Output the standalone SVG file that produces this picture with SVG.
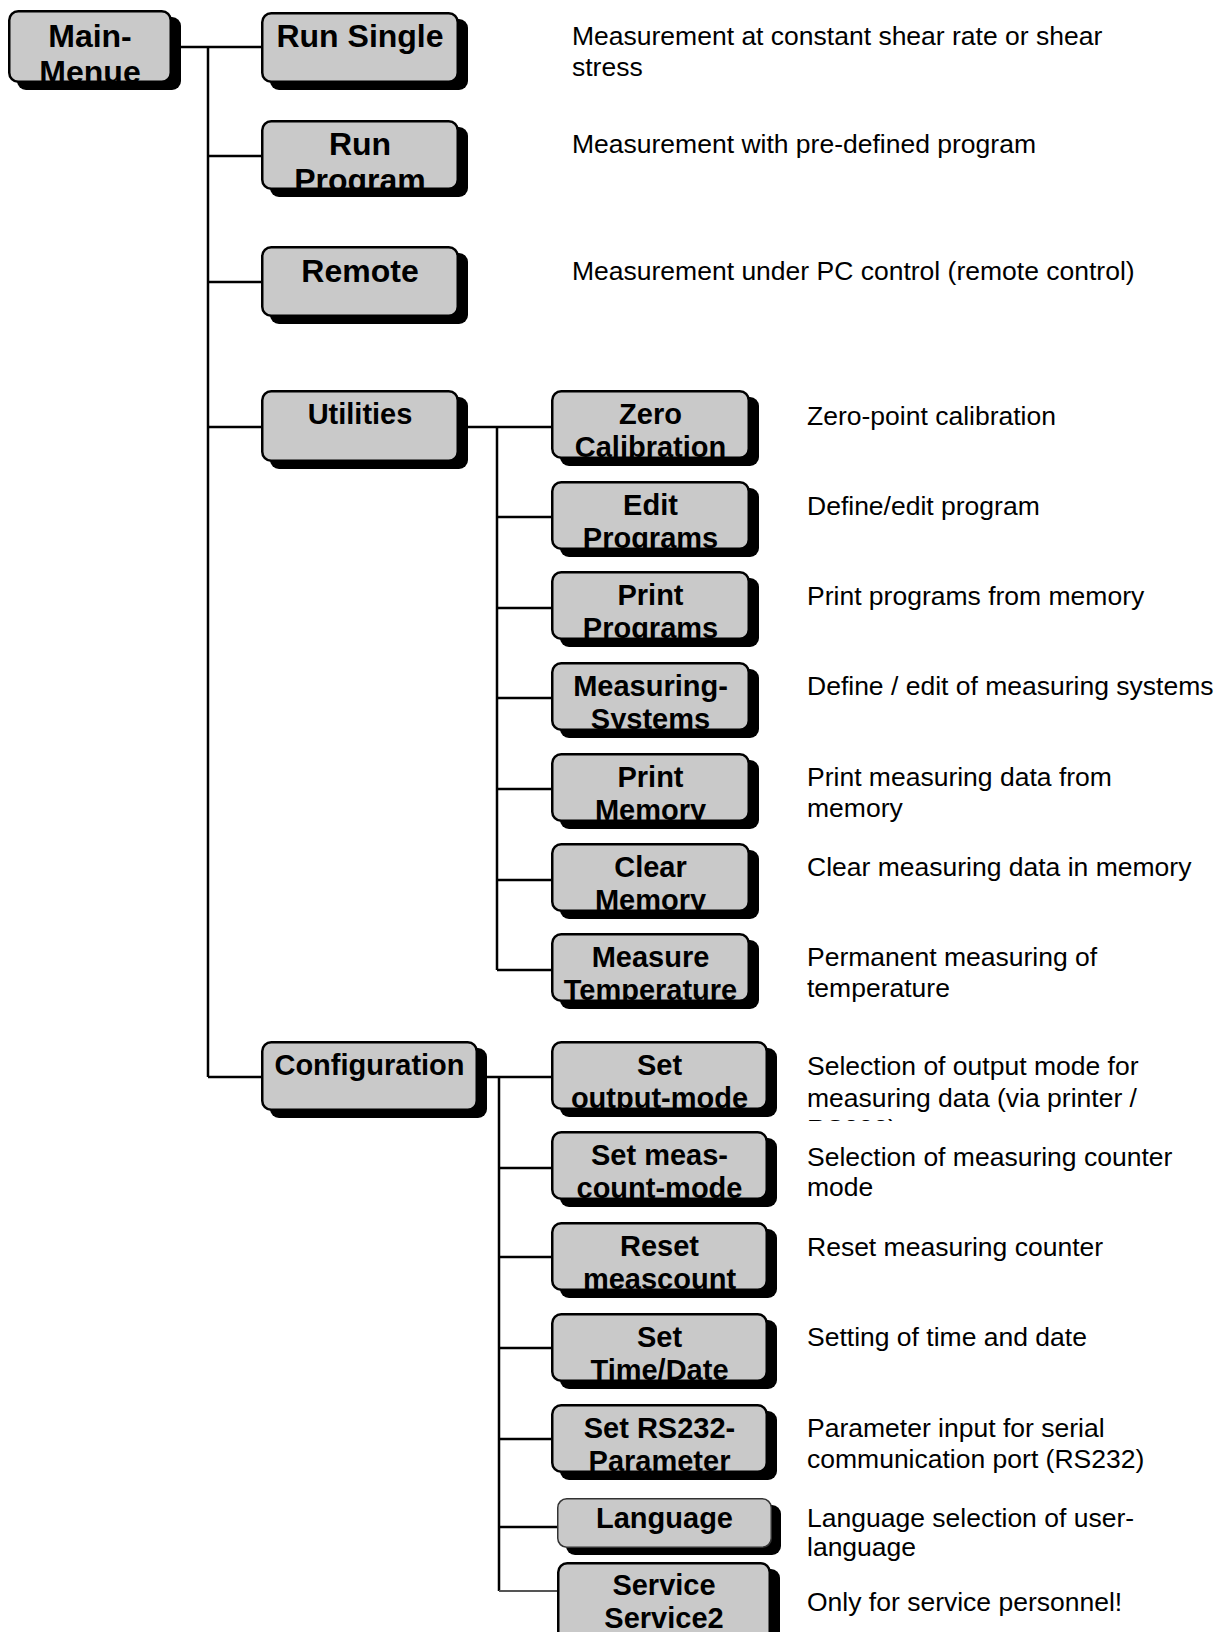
<svg xmlns="http://www.w3.org/2000/svg" width="1222" height="1632" viewBox="0 0 1222 1632">
<style>
.sh{fill:#000}
.bx{fill:#c9c9c9;stroke:#000;stroke-width:2.5}
.bxt{fill:#c9c9c9;stroke:#333;stroke-width:1.5}
.lb{font-family:"Liberation Sans",Arial,sans-serif;font-weight:bold;font-size:29px;text-anchor:middle;fill:#000}
.lg{font-size:32px}
.ds{font-family:"Liberation Sans",Arial,sans-serif;font-size:26.5px;fill:#000}
.cn{stroke:#000;stroke-width:2.5;fill:none}
.cnt{stroke:#555;stroke-width:1.8;fill:none}
</style>
<defs>
<clipPath id="clipDesc"><rect x="780" y="1040" width="420" height="81"/></clipPath>
</defs>
<rect width="1222" height="1632" fill="#fff"/>

<g id="connectors">
<path class="cn" d="M172 47H261M208 47V1077M208 156H261M208 282H261M208 427H261M208 1077H261"/>
<path class="cn" d="M458 427H551M497 427V970M497 517H551M497 608H551M497 698H551M497 789H551M497 880H551M497 970H551"/>
<path class="cn" d="M478 1077H551M499 1077V1591M499 1168H551M499 1257H551M499 1348H551M499 1439H551M499 1527H557"/>
<path class="cnt" d="M499 1591H557"/>
</g>

<g id="main-menue">
<rect class="sh" x="17" y="17" width="164" height="73" rx="9"/>
<svg x="8" y="10" width="164" height="73"><rect class="bx" x="1.25" y="1.25" width="161.5" height="70.5" rx="9"/>
<text class="lb lg" x="82" y="37">Main-</text><text class="lb lg" x="82" y="73">Menue</text></svg>
</g>

<g id="run-single">
<rect class="sh" x="270" y="19" width="198" height="71" rx="9"/>
<svg x="261" y="12" width="198" height="71"><rect class="bx" x="1.25" y="1.25" width="195.5" height="68.5" rx="9"/>
<text class="lb lg" x="99" y="35">Run Single</text></svg>
</g>

<g id="run-program">
<rect class="sh" x="270" y="127" width="198" height="70" rx="9"/>
<svg x="261" y="120" width="198" height="70"><rect class="bx" x="1.25" y="1.25" width="195.5" height="67.5" rx="9"/>
<text class="lb lg" x="99" y="35">Run</text><text class="lb lg" x="99" y="71">Program</text></svg>
</g>

<g id="remote">
<rect class="sh" x="270" y="253" width="198" height="71" rx="9"/>
<svg x="261" y="246" width="198" height="71"><rect class="bx" x="1.25" y="1.25" width="195.5" height="68.5" rx="9"/>
<text class="lb lg" x="99" y="36">Remote</text></svg>
</g>

<g id="utilities">
<rect class="sh" x="270" y="397" width="198" height="72" rx="9"/>
<svg x="261" y="390" width="198" height="72"><rect class="bx" x="1.25" y="1.25" width="195.5" height="69.5" rx="9"/>
<text class="lb" x="99" y="34">Utilities</text></svg>
</g>

<g id="configuration">
<rect class="sh" x="270" y="1048" width="217" height="70" rx="9"/>
<svg x="261" y="1041" width="217" height="70"><rect class="bx" x="1.25" y="1.25" width="214.5" height="67.5" rx="9"/>
<text class="lb" x="108.5" y="34">Configuration</text></svg>
</g>

<g id="zero-calibration">
<rect class="sh" x="560" y="397" width="199" height="69" rx="9"/>
<svg x="551" y="390" width="199" height="69"><rect class="bx" x="1.25" y="1.25" width="196.5" height="66.5" rx="9"/>
<text class="lb" x="99.5" y="34">Zero</text><text class="lb" x="99.5" y="67">Calibration</text></svg>
</g>

<g id="edit-programs">
<rect class="sh" x="560" y="488" width="199" height="69" rx="9"/>
<svg x="551" y="481" width="199" height="69"><rect class="bx" x="1.25" y="1.25" width="196.5" height="66.5" rx="9"/>
<text class="lb" x="99.5" y="34">Edit</text><text class="lb" x="99.5" y="67">Programs</text></svg>
</g>

<g id="print-programs">
<rect class="sh" x="560" y="578" width="199" height="69" rx="9"/>
<svg x="551" y="571" width="199" height="69"><rect class="bx" x="1.25" y="1.25" width="196.5" height="66.5" rx="9"/>
<text class="lb" x="99.5" y="34">Print</text><text class="lb" x="99.5" y="67">Programs</text></svg>
</g>

<g id="measuring-systems">
<rect class="sh" x="560" y="669" width="199" height="69" rx="9"/>
<svg x="551" y="662" width="199" height="69"><rect class="bx" x="1.25" y="1.25" width="196.5" height="66.5" rx="9"/>
<text class="lb" x="99.5" y="34">Measuring-</text><text class="lb" x="99.5" y="67">Systems</text></svg>
</g>

<g id="print-memory">
<rect class="sh" x="560" y="760" width="199" height="69" rx="9"/>
<svg x="551" y="753" width="199" height="69"><rect class="bx" x="1.25" y="1.25" width="196.5" height="66.5" rx="9"/>
<text class="lb" x="99.5" y="34">Print</text><text class="lb" x="99.5" y="67">Memory</text></svg>
</g>

<g id="clear-memory">
<rect class="sh" x="560" y="850" width="199" height="69" rx="9"/>
<svg x="551" y="843" width="199" height="69"><rect class="bx" x="1.25" y="1.25" width="196.5" height="66.5" rx="9"/>
<text class="lb" x="99.5" y="34">Clear</text><text class="lb" x="99.5" y="67">Memory</text></svg>
</g>

<g id="measure-temperature">
<rect class="sh" x="560" y="940" width="199" height="69" rx="9"/>
<svg x="551" y="933" width="199" height="69"><rect class="bx" x="1.25" y="1.25" width="196.5" height="66.5" rx="9"/>
<text class="lb" x="99.5" y="34">Measure</text><text class="lb" x="99.5" y="67">Temperature</text></svg>
</g>

<g id="set-output-mode">
<rect class="sh" x="560" y="1048" width="217" height="69" rx="9"/>
<svg x="551" y="1041" width="217" height="69"><rect class="bx" x="1.25" y="1.25" width="214.5" height="66.5" rx="9"/>
<text class="lb" x="108.5" y="34">Set</text><text class="lb" x="108.5" y="67">output-mode</text></svg>
</g>

<g id="set-meas-count-mode">
<rect class="sh" x="560" y="1138" width="217" height="69" rx="9"/>
<svg x="551" y="1131" width="217" height="69"><rect class="bx" x="1.25" y="1.25" width="214.5" height="66.5" rx="9"/>
<text class="lb" x="108.5" y="34">Set meas-</text><text class="lb" x="108.5" y="67">count-mode</text></svg>
</g>

<g id="reset-meascount">
<rect class="sh" x="560" y="1229" width="217" height="69" rx="9"/>
<svg x="551" y="1222" width="217" height="69"><rect class="bx" x="1.25" y="1.25" width="214.5" height="66.5" rx="9"/>
<text class="lb" x="108.5" y="34">Reset</text><text class="lb" x="108.5" y="67">meascount</text></svg>
</g>

<g id="set-time-date">
<rect class="sh" x="560" y="1320" width="217" height="69" rx="9"/>
<svg x="551" y="1313" width="217" height="69"><rect class="bx" x="1.25" y="1.25" width="214.5" height="66.5" rx="9"/>
<text class="lb" x="108.5" y="34">Set</text><text class="lb" x="108.5" y="67">Time/Date</text></svg>
</g>

<g id="set-rs232-parameter">
<rect class="sh" x="560" y="1411" width="217" height="69" rx="9"/>
<svg x="551" y="1404" width="217" height="69"><rect class="bx" x="1.25" y="1.25" width="214.5" height="66.5" rx="9"/>
<text class="lb" x="108.5" y="34">Set RS232-</text><text class="lb" x="108.5" y="67">Parameter</text></svg>
</g>

<g id="language">
<rect class="sh" x="566" y="1505" width="215" height="50" rx="9"/>
<svg x="557" y="1498" width="215" height="50"><rect class="bxt" x="0.75" y="0.75" width="213.5" height="48.5" rx="9"/>
<text class="lb" x="107.5" y="30">Language</text></svg>
</g>

<g id="service">
<rect class="sh" x="566" y="1569" width="214" height="80" rx="9"/>
<svg x="557" y="1562" width="214" height="80"><rect class="bx" x="1.25" y="1.25" width="211.5" height="77.5" rx="9"/>
<text class="lb" x="107" y="33">Service</text><text class="lb" x="107" y="66">Service2</text></svg>
</g>

<g id="descriptions">
<text class="ds" x="572" y="45">Measurement at constant shear rate or shear</text>
<text class="ds" x="572" y="76">stress</text>
<text class="ds" x="572" y="153">Measurement with pre-defined program</text>
<text class="ds" x="572" y="280">Measurement under PC control (remote control)</text>
<text class="ds" x="807" y="425">Zero-point calibration</text>
<text class="ds" x="807" y="515">Define/edit program</text>
<text class="ds" x="807" y="605">Print programs from memory</text>
<text class="ds" x="807" y="695">Define / edit of measuring systems</text>
<text class="ds" x="807" y="786">Print measuring data from</text>
<text class="ds" x="807" y="817">memory</text>
<text class="ds" x="807" y="876">Clear measuring data in memory</text>
<text class="ds" x="807" y="966">Permanent measuring of</text>
<text class="ds" x="807" y="997">temperature</text>
<text class="ds" x="807" y="1075">Selection of output mode for</text>
<text class="ds" x="807" y="1107">measuring data (via printer /</text>
<text class="ds" x="807" y="1138" clip-path="url(#clipDesc)">RS232)</text>
<text class="ds" x="807" y="1166">Selection of measuring counter</text>
<text class="ds" x="807" y="1196">mode</text>
<text class="ds" x="807" y="1256">Reset measuring counter</text>
<text class="ds" x="807" y="1346">Setting of time and date</text>
<text class="ds" x="807" y="1437">Parameter input for serial</text>
<text class="ds" x="807" y="1468">communication port (RS232)</text>
<text class="ds" x="807" y="1527">Language selection of user-</text>
<text class="ds" x="807" y="1556">language</text>
<text class="ds" x="807" y="1611">Only for service personnel!</text>
</g>
</svg>
